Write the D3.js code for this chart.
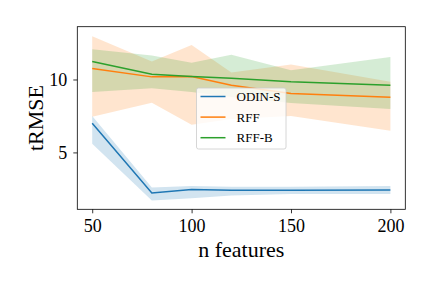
<!DOCTYPE html>
<html>
<head>
<meta charset="utf-8">
<script src="https://cdn.jsdelivr.net/npm/d3@7"></script>
<style>
  body { margin: 0; background: #fff; }
  svg text { font-family: "Liberation Serif", "DejaVu Serif", serif; fill: #000; }
</style>
</head>
<body>
<div id="chart"></div>
<script>
// n features on the x axis
var nFeatures = [50, 80, 100, 120, 150, 200];

// mean tRMSE and the shaded band around it, per method
var odinMean  = [7.0, 2.22, 2.45, 2.4, 2.4, 2.42];
var odinLow   = [5.6, 1.7, 1.85, 2.05, 2.15, 2.15];
var odinHigh  = [7.5, 2.6, 2.7, 2.65, 2.65, 2.7];

var rffMean   = [10.75, 10.18, 10.2, 9.6, 9.04, 8.78];
var rffLow    = [7.45, 8.4, 6.9, 7.3, 7.5, 6.48];
var rffHigh   = [12.97, 11.23, 12.37, 10.48, 11.03, 9.84];

var rffbMean  = [11.23, 10.36, 10.2, 10.08, 9.84, 9.61];
var rffbLow   = [9.15, 9.4, 9.15, 8.8, 8.38, 7.97];
var rffbHigh  = [12.07, 11.64, 11.15, 11.7, 10.64, 11.55];

var seriesNames = ['ODIN-S', 'RFF', 'RFF-B'];
var xTicks = [50, 100, 150, 200];
var yTicks = [5, 10];

var width = 432, height = 288;
var margin = {top: 26.7, right: 26.7, bottom: 78.7, left: 77.3};
var colors = ['#1f77b4', '#ff7f0e', '#2ca02c'];

var series = [
  {name: seriesNames[0], mean: odinMean, low: odinLow, high: odinHigh},
  {name: seriesNames[1], mean: rffMean, low: rffLow, high: rffHigh},
  {name: seriesNames[2], mean: rffbMean, low: rffbLow, high: rffbHigh}
];

var svg = d3.select('#chart').append('svg')
  .attr('width', width)
  .attr('height', height);

var x = d3.scaleLinear()
  .domain([42.5, 207.5])
  .range([margin.left, width - margin.right]);

var y = d3.scaleLinear()
  .domain([1.1, 13.62])
  .range([height - margin.bottom, margin.top]);

var band = d3.area()
  .x(function (d) { return x(d.x); })
  .y0(function (d) { return y(d.lo); })
  .y1(function (d) { return y(d.hi); });

var line = d3.line()
  .x(function (d) { return x(d.x); })
  .y(function (d) { return y(d.v); });

// shaded bands first, then lines on top
series.forEach(function (s, i) {
  var pts = nFeatures.map(function (n, j) {
    return {x: n, v: s.mean[j], lo: s.low[j], hi: s.high[j]};
  });
  svg.append('path')
    .datum(pts)
    .attr('d', band)
    .attr('fill', colors[i])
    .attr('fill-opacity', 0.2)
    .attr('stroke', 'none');
  s.pts = pts;
});

series.forEach(function (s, i) {
  svg.append('path')
    .datum(s.pts)
    .attr('d', line)
    .attr('fill', 'none')
    .attr('stroke', colors[i])
    .attr('stroke-width', 1.5);
});

// axes
var xAxis = svg.append('g')
  .attr('transform', 'translate(0,' + (height - margin.bottom) + ')')
  .call(d3.axisBottom(x).tickValues(xTicks).tickSize(4).tickPadding(6));

var yAxis = svg.append('g')
  .attr('transform', 'translate(' + margin.left + ',0)')
  .call(d3.axisLeft(y).tickValues(yTicks).tickSize(4).tickPadding(6));

[xAxis, yAxis].forEach(function (g) {
  g.select('.domain').remove();
  g.selectAll('.tick line').attr('stroke', '#000').attr('stroke-width', 0.8);
  g.selectAll('.tick text').attr('font-size', 18).attr('fill', '#000')
    .attr('font-family', '"Liberation Serif", serif');
});

// frame
svg.append('rect')
  .attr('x', margin.left)
  .attr('y', margin.top)
  .attr('width', width - margin.left - margin.right)
  .attr('height', height - margin.top - margin.bottom)
  .attr('fill', 'none')
  .attr('stroke', '#000')
  .attr('stroke-width', 0.8);

// axis labels
svg.append('text')
  .attr('x', (margin.left + width - margin.right) / 2)
  .attr('y', 257)
  .attr('text-anchor', 'middle')
  .attr('font-size', 22)
  .text('n features');

svg.append('text')
  .attr('transform', 'translate(43,' + ((margin.top + height - margin.bottom) / 2) + ') rotate(-90)')
  .attr('text-anchor', 'middle')
  .attr('font-size', 22)
  .text('tRMSE');

// legend
var legend = svg.append('g').attr('transform', 'translate(196.5,88)');
legend.append('rect')
  .attr('width', 89.5)
  .attr('height', 61)
  .attr('rx', 2)
  .attr('fill', '#fff')
  .attr('fill-opacity', 0.8)
  .attr('stroke', '#ccc')
  .attr('stroke-width', 0.8);

seriesNames.forEach(function (name, i) {
  var row = legend.append('g').attr('transform', 'translate(0,' + (8.5 + i * 20.6) + ')');
  row.append('line')
    .attr('x1', 4).attr('x2', 29)
    .attr('stroke', colors[i])
    .attr('stroke-width', 1.5);
  row.append('text')
    .attr('x', 40)
    .attr('dy', '0.35em')
    .attr('font-size', 13)
    .text(name);
});
</script>
</body>
</html>
